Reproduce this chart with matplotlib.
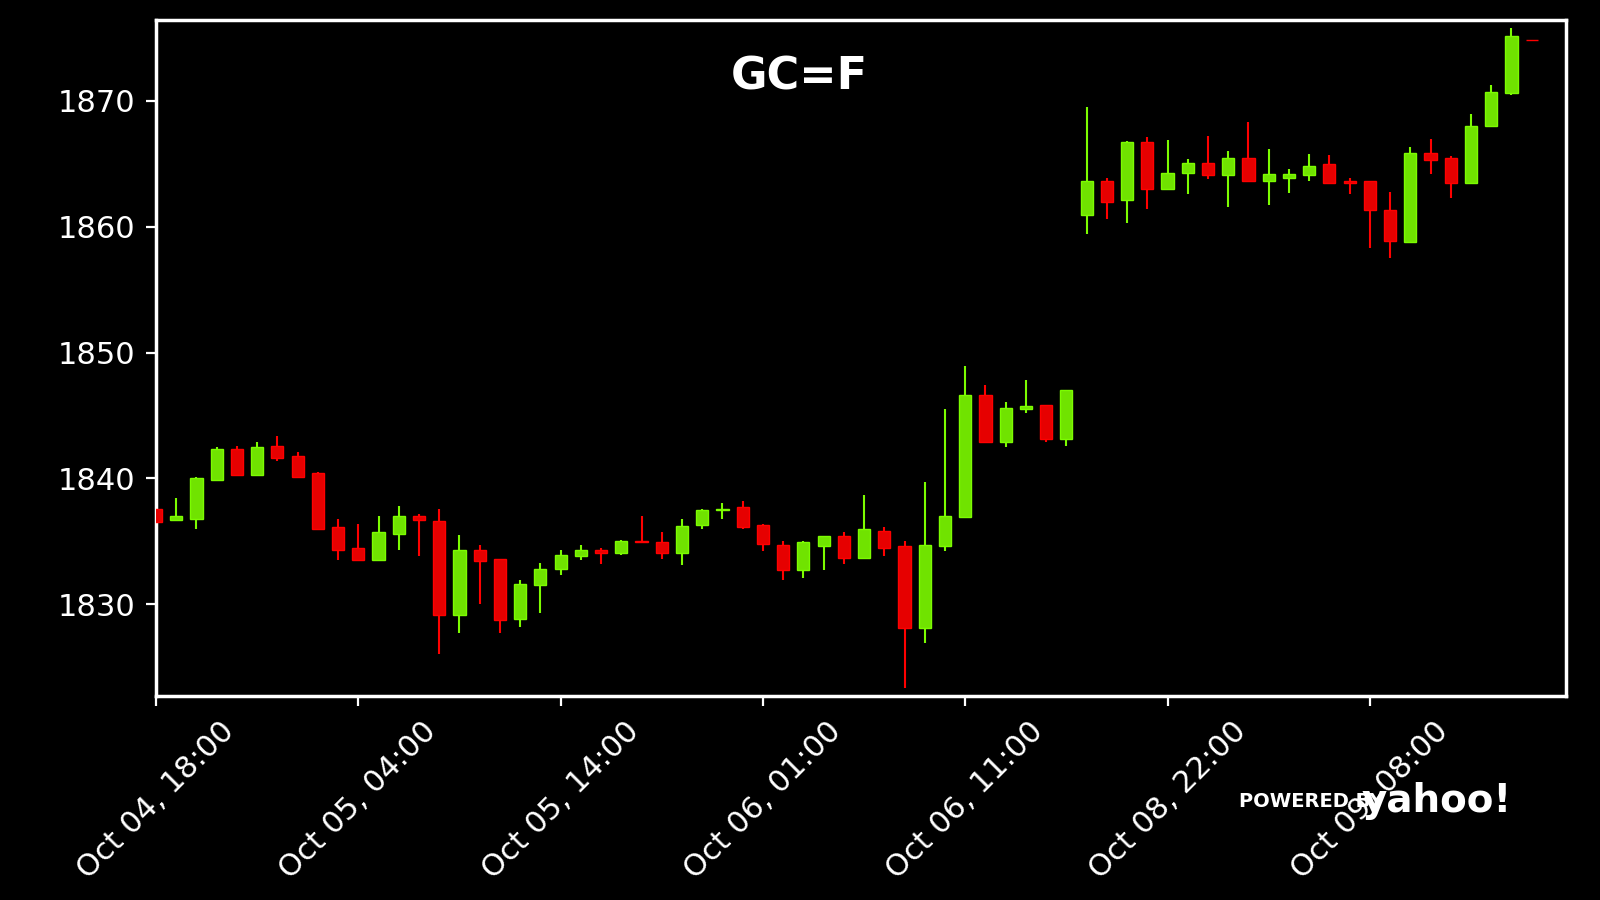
import matplotlib
matplotlib.use("Agg")
import matplotlib.pyplot as plt

# Hourly OHLC for GC=F
opens = [1837.6, 1836.7, 1836.8, 1839.9, 1842.3, 1840.3, 1842.6, 1841.8, 1840.4, 1836.1,
         1834.5, 1833.5, 1835.6, 1837.0, 1836.6, 1829.1, 1834.3, 1833.6, 1828.8, 1831.5,
         1832.8, 1833.8, 1834.3, 1834.1, 1835.0, 1834.9, 1834.1, 1836.3, 1837.5, 1837.7,
         1836.3, 1834.7, 1832.7, 1834.6, 1835.4, 1833.7, 1835.8, 1834.6, 1828.1, 1834.6,
         1836.9, 1846.6, 1842.9, 1845.55, 1845.8, 1843.1, 1860.9, 1863.6, 1862.1, 1866.7,
         1863.0, 1864.3, 1865.1, 1864.1, 1865.5, 1863.6, 1863.9, 1864.1, 1865.0, 1863.6,
         1863.6, 1861.3, 1858.8, 1865.9, 1865.5, 1863.5, 1868.0, 1870.6, 1874.87]
highs = [1837.6, 1838.4, 1840.1, 1842.5, 1842.6, 1842.9, 1843.4, 1842.1, 1840.5, 1836.8,
         1836.4, 1837.0, 1837.8, 1837.2, 1837.6, 1835.5, 1834.7, 1833.6, 1831.9, 1833.3,
         1834.3, 1834.7, 1834.5, 1835.1, 1837.0, 1835.7, 1836.8, 1837.6, 1838.0, 1838.2,
         1836.4, 1835.0, 1835.0, 1835.4, 1835.7, 1838.7, 1836.1, 1835.0, 1839.7, 1845.5,
         1848.9, 1847.4, 1846.1, 1847.8, 1845.8, 1847.0, 1869.5, 1863.9, 1866.8, 1867.1,
         1866.9, 1865.4, 1867.2, 1866.0, 1868.3, 1866.2, 1864.6, 1865.8, 1865.7, 1863.9,
         1863.6, 1862.8, 1866.3, 1867.0, 1865.6, 1869.0, 1871.3, 1875.8, 1874.87]
lows = [1836.5, 1836.6, 1836.0, 1839.9, 1840.2, 1840.2, 1841.4, 1840.1, 1835.9, 1833.5,
        1833.4, 1833.4, 1834.3, 1833.8, 1826.0, 1827.7, 1830.0, 1827.7, 1828.2, 1829.3,
        1832.3, 1833.5, 1833.2, 1833.9, 1834.9, 1833.6, 1833.1, 1836.0, 1836.8, 1836.0,
        1834.2, 1831.9, 1832.1, 1832.7, 1833.2, 1833.6, 1833.8, 1823.3, 1826.9, 1834.2,
        1836.9, 1842.8, 1842.5, 1845.2, 1842.9, 1842.6, 1859.4, 1860.6, 1860.3, 1861.4,
        1863.0, 1862.6, 1863.8, 1861.6, 1863.6, 1861.7, 1862.7, 1863.6, 1863.4, 1862.6,
        1858.3, 1857.5, 1858.7, 1864.2, 1862.3, 1863.5, 1868.0, 1870.5, 1874.83]
closes = [1836.5, 1837.0, 1840.0, 1842.3, 1840.3, 1842.5, 1841.6, 1840.1, 1836.0, 1834.3,
          1833.5, 1835.7, 1837.0, 1836.7, 1829.1, 1834.3, 1833.4, 1828.7, 1831.6, 1832.8,
          1833.9, 1834.3, 1834.1, 1835.0, 1834.9, 1834.1, 1836.2, 1837.5, 1837.6, 1836.1,
          1834.8, 1832.7, 1834.9, 1835.4, 1833.7, 1836.0, 1834.5, 1828.1, 1834.7, 1837.0,
          1846.6, 1842.9, 1845.6, 1845.75, 1843.1, 1847.0, 1863.6, 1862.0, 1866.7, 1863.0,
          1864.3, 1865.1, 1864.1, 1865.5, 1863.6, 1864.2, 1864.2, 1864.8, 1863.5, 1863.5,
          1861.3, 1858.9, 1865.9, 1865.3, 1863.5, 1868.0, 1870.7, 1875.2, 1874.83]

tick_pos = [0, 10, 20, 30, 40, 50, 60]
tick_labels = ['Oct 04, 18:00', 'Oct 05, 04:00', 'Oct 05, 14:00', 'Oct 06, 01:00',
               'Oct 06, 11:00', 'Oct 08, 22:00', 'Oct 09, 08:00']

green_fill, green_edge = '#70e300', '#7cfc00'
red_fill, red_edge = '#e60000', '#ff0000'

x = list(range(len(opens)))
up = [c >= o for o, c in zip(opens, closes)]
fills = [green_fill if u else red_fill for u in up]
edges = [green_edge if u else red_edge for u in up]
bottoms = [min(o, c) for o, c in zip(opens, closes)]
heights = [abs(c - o) for o, c in zip(opens, closes)]

fig = plt.figure(figsize=(16, 9), dpi=100, facecolor='black')
ax = fig.add_axes([0.0975, 0.2267, 0.8813, 0.7506])
ax.set_facecolor('black')

# wicks then bodies
ax.vlines(x, lows, highs, colors=edges, linewidth=1.5, zorder=2)
ax.bar(x, heights, width=0.6, bottom=bottoms, color=fills, edgecolor=edges,
       linewidth=1.0, zorder=3)

ax.set_xlim(0, 69.7)
ax.set_ylim(1822.7, 1876.4)
ax.set_yticks([1830, 1840, 1850, 1860, 1870])
ax.set_xticks(tick_pos)
ax.set_xticklabels(tick_labels, rotation=45, ha='center')

for s in ax.spines.values():
    s.set_color('white')
    s.set_linewidth(2.5)
ax.tick_params(colors='white', labelsize=22, length=7, width=1.6, pad=8)

fig.text(0.4995, 1 - 77 / 900, 'GC=F', ha='center', va='center', fontsize=32,
         fontweight='bold', color='white')

# "powered by yahoo!" mark
fig.text(1239 / 1600, 1 - 807 / 900, 'POWERED BY', ha='left', va='baseline',
         fontsize=14, fontweight='bold', color='white',
         family=['Liberation Sans Narrow', 'DejaVu Sans'], zorder=5)
fig.text(1362 / 1600, 1 - 812 / 900, 'yahoo!', ha='left', va='baseline',
         fontsize=28, fontweight='heavy', color='white', zorder=5)

fig.savefig('out.png', dpi=100, facecolor='black')
